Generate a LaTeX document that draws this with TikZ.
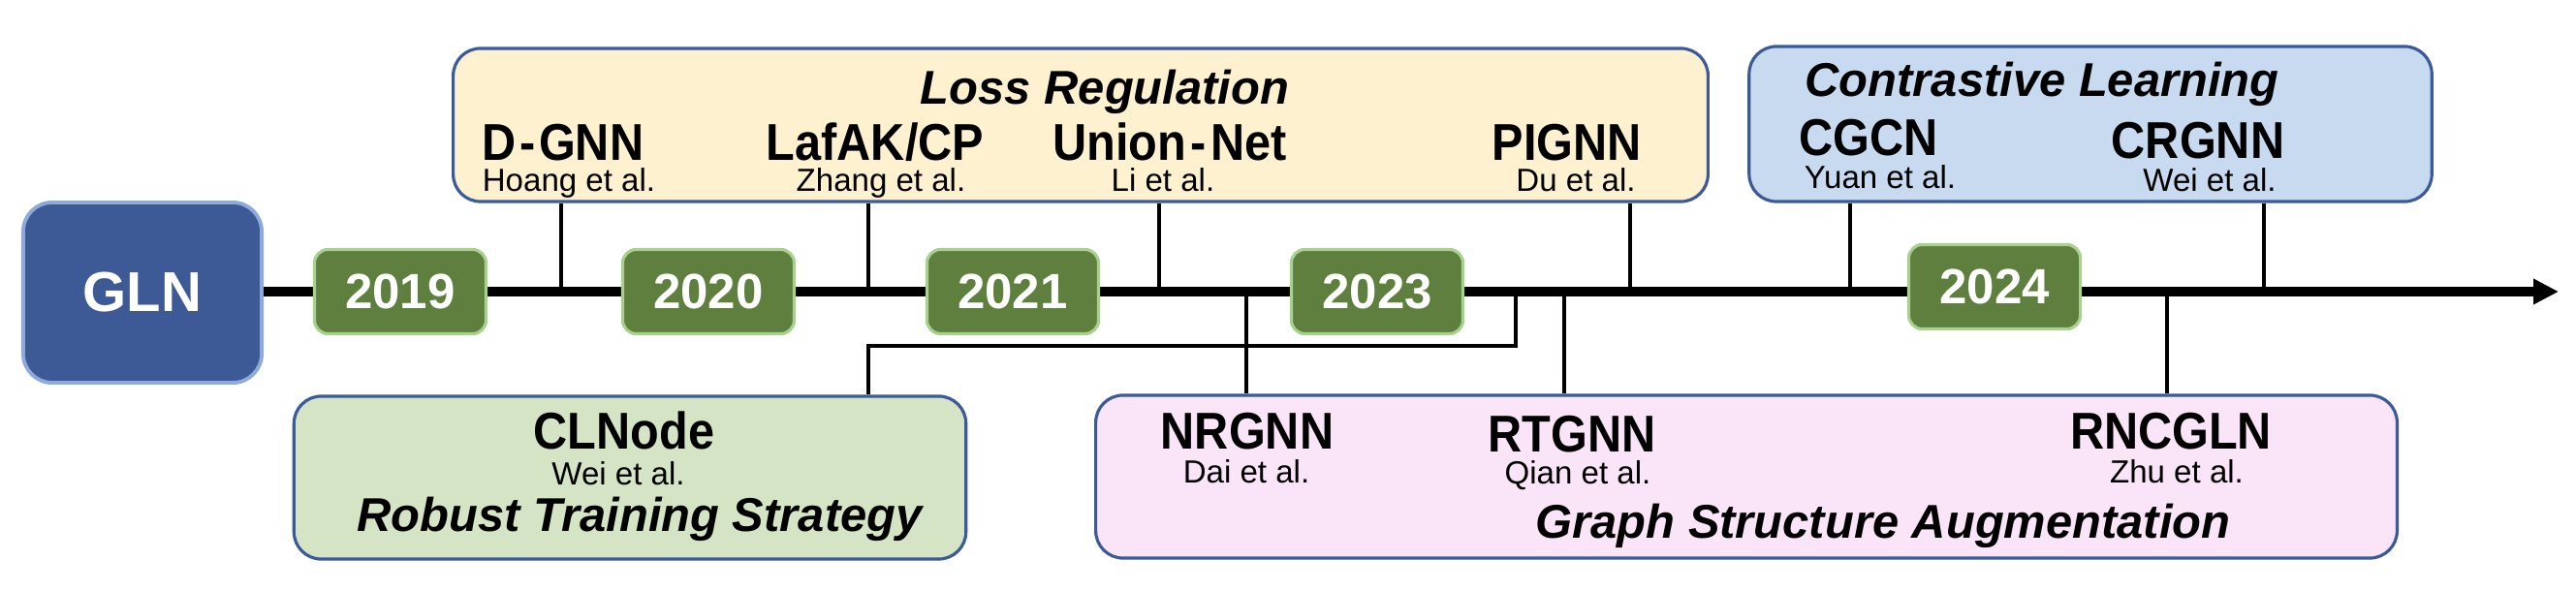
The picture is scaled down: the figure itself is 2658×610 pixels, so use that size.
\documentclass[tikz,border=0pt]{standalone}
\usepackage{fontspec}
\setmainfont{Liberation Sans}
\newfontfamily\condfont[FakeStretch=0.91]{Liberation Sans}
\usetikzlibrary{arrows.meta}
\definecolor{glnfill}{HTML}{3D5A96}
\definecolor{glnedge}{HTML}{8EA9DB}
\definecolor{yrfill}{HTML}{5F7F3F}
\definecolor{yredge}{HTML}{A9D18E}
\definecolor{boxedge}{HTML}{3A5A9A}
\definecolor{lossfill}{HTML}{FDF1D0}
\definecolor{clfill}{HTML}{C8DAEF}
\definecolor{rtfill}{HTML}{D4E4C4}
\definecolor{gsfill}{HTML}{FAE4F7}
\begin{document}
\begin{tikzpicture}[x=0.01cm,y=-0.01cm,
 catbox/.style={draw=boxedge,line width=0.9pt,rounded corners=8pt,inner sep=0pt},
 yearbox/.style={draw=yredge,fill=yrfill,line width=0.9pt,rounded corners=4pt,minimum width=1.77cm,minimum height=0.87cm,inner sep=0pt,text=white,font=\fontsize{14.5}{14.5}\selectfont\bfseries},
 method/.style={anchor=base,inner sep=0pt,font=\condfont\fontsize{15.2}{15.2}\selectfont\bfseries},
 author/.style={anchor=base,inner sep=0pt,font=\fontsize{9.4}{9.4}\selectfont},
 cattitle/.style={anchor=base,inner sep=0pt,font=\fontsize{13.9}{13.9}\selectfont\bfseries\itshape},
 link/.style={line width=1.15pt},
 axis/.style={line width=2.85pt,-{Triangle[length=0.26cm,width=0.25cm]}}
]
\useasboundingbox (0,0) rectangle (2658,610);

% category boxes
\node[catbox,fill=lossfill,minimum width=12.94cm,minimum height=1.58cm] (loss) at (1115,129) {};
\node[catbox,fill=clfill,minimum width=7.04cm,minimum height=1.60cm] (contr) at (2157,128) {};
\node[catbox,fill=rtfill,minimum width=6.93cm,minimum height=1.68cm] (robust) at (650,493) {};
\node[catbox,fill=gsfill,minimum width=13.42cm,minimum height=1.68cm] (graph) at (1802,492) {};

% GLN
\node[draw=glnedge,fill=glnfill,line width=1.1pt,rounded corners=8.5pt,minimum width=2.46cm,minimum height=1.86cm,inner sep=0pt,text=white,font=\fontsize{16.5}{16.5}\selectfont\bfseries] (gln) at (147,302) {GLN};

% timeline
\coordinate (tip) at (2640,301);
\draw[axis] (gln.east |- 0,301) -- (tip);

% connector anchors on the timeline
\coordinate (cdgnn) at (579,306);
\coordinate (claf) at (896,306);
\coordinate (cunion) at (1196,306);
\coordinate (cpig) at (1682,306);
\coordinate (ccgcn) at (1909,306);
\coordinate (ccrg) at (2336,297);
\coordinate (cnrg) at (1286,297);
\coordinate (crtg) at (1614,297);
\coordinate (crnc) at (2236,306);
\coordinate (ccln) at (1564,297);
\coordinate (bend) at (1564,357);
\coordinate (bendl) at (896,357);

\draw[link] (cdgnn |- loss.south) -- (cdgnn);
\draw[link] (claf |- loss.south) -- (claf);
\draw[link] (cunion |- loss.south) -- (cunion);
\draw[link] (cpig |- loss.south) -- (cpig);
\draw[link] (ccgcn |- contr.south) -- (ccgcn);
\draw[link] (ccrg |- contr.south) -- (ccrg);
\draw[link] (cnrg) -- (cnrg |- graph.north);
\draw[link] (crtg) -- (crtg |- graph.north);
\draw[link] (crnc) -- (crnc |- graph.north);
\draw[link] (ccln) -- (bend) -- (bendl) -- (bendl |- robust.north);

% year boxes
\node[yearbox] (y2019) at (413,301) {2019};
\node[yearbox] (y2020) at (731,301) {2020};
\node[yearbox] (y2021) at (1045,301) {2021};
\node[yearbox] (y2023) at (1421,301) {2023};
\node[yearbox] (y2024) at (2058,296) {2024};

% Loss Regulation
\node[cattitle] (tloss) at (1140,108) {Loss Regulation};
\node[method] (dgnn) at (581,166) {D\kern1pt-\kern1pt GNN};
\node[author] (dgnna) at (587,198) {Hoang et al.};
\node[method] (laf) at (903,166) {LafAK/CP};
\node[author] (lafa) at (909,198) {Zhang et al.};
\node[method] (union) at (1207,166) {Union\kern1.2pt-\kern1.2pt Net};
\node[author] (uniona) at (1200,198) {Li et al.};
\node[method] (pig) at (1617,166) {PIGNN};
\node[author] (piga) at (1626,198) {Du et al.};

% Contrastive Learning
\node[cattitle] (tcontr) at (2107,100) {Contrastive Learning};
\node[method] (cgcn) at (1928,161) {CGCN};
\node[author] (cgcna) at (1940,195) {Yuan et al.};
\node[method] (crg) at (2268,164) {CRGNN};
\node[author] (crga) at (2280,198) {Wei et al.};

% Robust Training Strategy
\node[method] (cln) at (644,464) {CLNode};
\node[author] (clna) at (638,501) {Wei et al.};
\node[cattitle] (trob) at (660,549) {Robust Training Strategy};

% Graph Structure Augmentation
\node[method] (nrg) at (1287,464) {NRGNN};
\node[author] (nrga) at (1286,499) {Dai et al.};
\node[method] (rtg) at (1622,467) {RTGNN};
\node[author] (rtga) at (1628,500) {Qian et al.};
\node[method] (rnc) at (2240,464) {RNCGLN};
\node[author] (rnca) at (2246,499) {Zhu et al.};
\node[cattitle] (tgraph) at (1943,556) {Graph Structure Augmentation};
\end{tikzpicture}
\end{document}
